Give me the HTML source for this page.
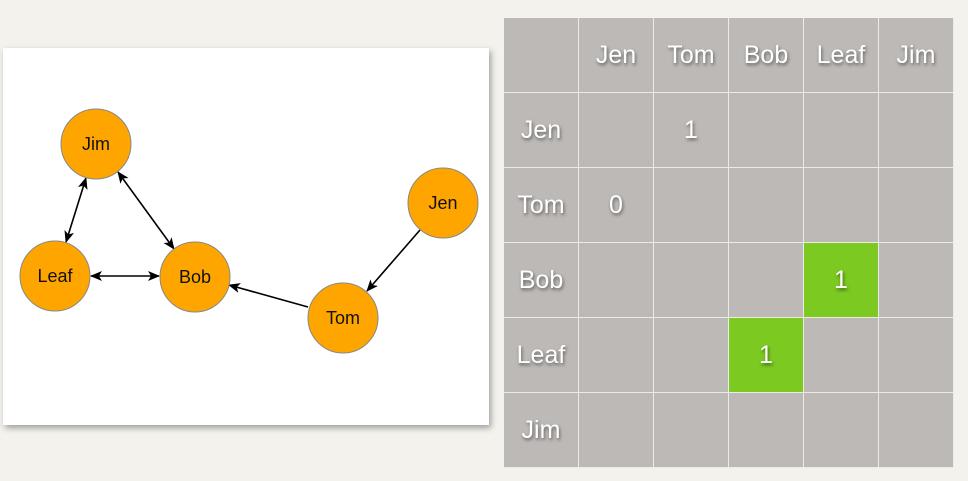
<!DOCTYPE html>
<html><head><style>
body{margin:0;width:968px;height:481px;background:#f4f2ed;position:relative;overflow:hidden;font-family:"Liberation Sans",sans-serif}
.card{position:absolute;left:3px;top:48px;width:486px;height:377px;background:#fff;box-shadow:2px 3px 6px rgba(0,0,0,0.35)}
table{position:absolute;left:504px;top:18px;border-collapse:collapse;background:#bdb9b6}
td{width:74px;height:74px;border:1px solid #eeeae6;padding:0;text-align:center;color:#fff;font-size:25px;text-shadow:1px 2px 3px rgba(0,0,0,0.5)}
tr:first-child td{border-top:none}
td:first-child{border-left:none}
.g{background:#7cc922}
</style></head><body>
<div class="card"></div>
<svg style="position:absolute;left:0;top:0" width="500" height="481">
<defs><marker id="a" markerWidth="12" markerHeight="10" refX="11" refY="5" orient="auto-start-reverse" markerUnits="userSpaceOnUse"><path d="M0,0 L12,5 L0,10 L3,5z" fill="#000"/></marker></defs>
<g stroke="#000" stroke-width="1.6" fill="none">
<line x1="86" y1="178" x2="66" y2="242" marker-start="url(#a)" marker-end="url(#a)"/>
<line x1="118" y1="172" x2="174" y2="249" marker-start="url(#a)" marker-end="url(#a)"/>
<line x1="91" y1="276" x2="159" y2="276" marker-start="url(#a)" marker-end="url(#a)"/>
<line x1="420" y1="230" x2="367" y2="291" marker-end="url(#a)"/>
<line x1="308" y1="307" x2="229" y2="285" marker-end="url(#a)"/>
</g>
<g fill="#ffa500" stroke="#888" stroke-width="1">
<circle cx="96" cy="144" r="35"/><circle cx="55" cy="276" r="35"/><circle cx="195" cy="277" r="35"/><circle cx="443" cy="203" r="35"/><circle cx="343" cy="318" r="35"/>
</g>
<g font-size="18" text-anchor="middle" fill="#111" font-family="Liberation Sans,sans-serif">
<text x="96" y="150">Jim</text><text x="55" y="282">Leaf</text><text x="195" y="283">Bob</text><text x="443" y="209">Jen</text><text x="343" y="324">Tom</text>
</g>
</svg>
<table>
<tr><td></td><td>Jen</td><td>Tom</td><td>Bob</td><td>Leaf</td><td>Jim</td></tr>
<tr><td>Jen</td><td></td><td>1</td><td></td><td></td><td></td></tr>
<tr><td>Tom</td><td>0</td><td></td><td></td><td></td><td></td></tr>
<tr><td>Bob</td><td></td><td></td><td></td><td class="g">1</td><td></td></tr>
<tr><td>Leaf</td><td></td><td></td><td class="g">1</td><td></td><td></td></tr>
<tr><td>Jim</td><td></td><td></td><td></td><td></td><td></td></tr>
</table>
</body></html>
